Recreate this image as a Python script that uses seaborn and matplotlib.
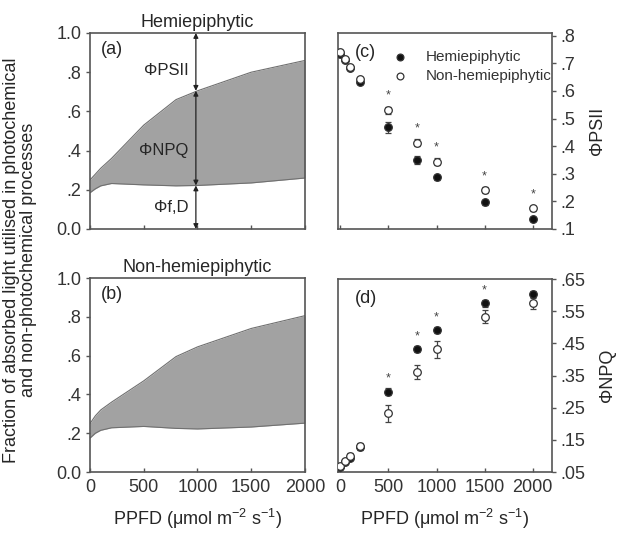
import numpy as np
import matplotlib.pyplot as plt
import pandas as pd
import seaborn as sns

# PPFD steps of the light curve
ppfd = [0, 50, 100, 200, 500, 800, 1000, 1500, 2000]

# energy partitioning bands (a) and (b)
hemi_upper = [0.25, 0.28, 0.31, 0.36, 0.53, 0.66, 0.705, 0.80, 0.86]
hemi_lower = [0.185, 0.205, 0.22, 0.232, 0.225, 0.22, 0.222, 0.235, 0.26]
non_upper = [0.25, 0.29, 0.32, 0.36, 0.47, 0.595, 0.645, 0.74, 0.806]
non_lower = [0.175, 0.20, 0.215, 0.228, 0.235, 0.225, 0.222, 0.232, 0.252]

# panel (c): PhiPSII
hemi_psii = [0.735, 0.713, 0.683, 0.634, 0.469, 0.349, 0.287, 0.196, 0.136]
hemi_psii_se = [0.005, 0.005, 0.005, 0.008, 0.02, 0.015, 0.01, 0.008, 0.008]
non_psii = [0.740, 0.716, 0.687, 0.642, 0.530, 0.413, 0.344, 0.241, 0.175]
non_psii_se = [0.005, 0.005, 0.008, 0.008, 0.012, 0.012, 0.012, 0.01, 0.01]

# panel (d): PhiNPQ
hemi_npq = [0.065, 0.080, 0.093, 0.128, 0.300, 0.432, 0.491, 0.574, 0.603]
hemi_npq_se = [0.005, 0.005, 0.006, 0.01, 0.01, 0.01, 0.01, 0.012, 0.01]
non_npq = [0.068, 0.083, 0.100, 0.131, 0.232, 0.362, 0.431, 0.533, 0.574]
non_npq_se = [0.005, 0.005, 0.008, 0.01, 0.025, 0.022, 0.025, 0.02, 0.017]

# significant differences (*)
sig_psii = [500, 800, 1000, 1500, 2000]
sig_npq = [500, 800, 1000, 1500]

groups = ['Hemiepiphytic', 'Non-hemiepiphytic']
faces = {'Hemiepiphytic': '#111111', 'Non-hemiepiphytic': 'white'}

sns.set_theme(style='ticks')
plt.rcParams['font.family'] = ['Liberation Sans', 'DejaVu Sans']
plt.rcParams['axes.edgecolor'] = '#555555'
plt.rcParams['xtick.color'] = '#555555'
plt.rcParams['ytick.color'] = '#555555'
plt.rcParams['xtick.labelcolor'] = '#333333'
plt.rcParams['ytick.labelcolor'] = '#333333'
plt.rcParams['mathtext.fontset'] = 'custom'
plt.rcParams['mathtext.rm'] = 'Liberation Sans'
plt.rcParams['font.size'] = 13

FS = 13
txt_col = '#262626'
ppfd_label = 'PPFD (\u03bcmol m$^{\\mathrm{-2}}$ s$^{\\mathrm{-1}}$)'

fig = plt.figure(figsize=(6.19, 5.33), dpi=100)
ax_a = fig.add_axes([0.1454, 0.5704, 0.3473, 0.3677])
ax_b = fig.add_axes([0.1454, 0.1144, 0.3473, 0.3640])
ax_c = fig.add_axes([0.5460, 0.5704, 0.3457, 0.3677])
ax_d = fig.add_axes([0.5460, 0.1144, 0.3457, 0.3621])

fill_col = '#a2a2a2'
edge_col = '#707070'

# ---- left panels: stacked fractions
for ax, up, lo, title, tag in [(ax_a, hemi_upper, hemi_lower, groups[0], '(a)'),
                               (ax_b, non_upper, non_lower, groups[1], '(b)')]:
    band = pd.DataFrame({'PPFD': ppfd, 'upper': up, 'lower': lo})
    ax.fill_between(band['PPFD'], band['lower'], band['upper'],
                    color=fill_col, linewidth=0)
    sns.lineplot(data=band, x='PPFD', y='upper', ax=ax, color=edge_col, lw=0.8)
    sns.lineplot(data=band, x='PPFD', y='lower', ax=ax, color=edge_col, lw=0.8)
    ax.set_xlim(0, 2000)
    ax.set_ylim(0, 1.0)
    ax.set_yticks([0, 0.2, 0.4, 0.6, 0.8, 1.0])
    ax.set_yticklabels(['0.0', '.2', '.4', '.6', '.8', '1.0'])
    ax.set_xticks([0, 500, 1000, 1500, 2000])
    ax.tick_params(axis='x', direction='in', length=3, width=1)
    ax.tick_params(axis='y', direction='out', length=3, width=1, labelsize=FS, pad=3)
    ax.set_xlabel('')
    ax.set_ylabel('')
    ax.set_title(title, fontsize=FS, pad=4, color=txt_col)
    ax.text(0.05, 0.915, tag, transform=ax.transAxes, fontsize=FS,
            va='center', ha='left', color=txt_col)

ax_a.tick_params(axis='x', labelbottom=False)
ax_b.tick_params(axis='x', labelsize=FS, pad=5)
ax_b.set_xlabel(ppfd_label, fontsize=FS, labelpad=8, color=txt_col)

# partition arrows in (a) at 1000 umol
i_arrow = ppfd.index(1000)
x_arrow = 985
arrow_kw = dict(arrowstyle='<|-|>', color='#222222', lw=0.9,
                mutation_scale=7, shrinkA=0, shrinkB=0)
for y0, y1 in [(1.0, hemi_upper[i_arrow]),
               (hemi_upper[i_arrow], hemi_lower[i_arrow]),
               (hemi_lower[i_arrow], 0.0)]:
    ax_a.annotate('', xy=(x_arrow, y0), xytext=(x_arrow, y1), arrowprops=arrow_kw)
ax_a.text(915, 0.81, '\u03a6PSII', ha='right', va='center', fontsize=12, color=txt_col)
ax_a.text(915, 0.40, '\u03a6NPQ', ha='right', va='center', fontsize=12, color=txt_col)
ax_a.text(915, 0.11, '\u03a6f,D', ha='right', va='center', fontsize=12, color=txt_col)

fig.text(0.032, 0.512,
         'Fraction of absorbed light utilised in photochemical\nand non-photochemical processes',
         rotation=90, ha='center', va='center', fontsize=FS, color=txt_col,
         linespacing=1.0)

# ---- right panels: yields with SE
def yield_panel(ax, hemi, hemi_se, non, non_se, sig, star_off, ylim, yticks, ylabels, ylab, tag):
    df = pd.DataFrame({'PPFD': ppfd * 2,
                       'val': hemi + non,
                       'se': hemi_se + non_se,
                       'Group': [groups[0]] * len(ppfd) + [groups[1]] * len(ppfd)})
    for g in groups:
        sub = df[df['Group'] == g]
        ax.errorbar(sub['PPFD'], sub['val'], yerr=sub['se'], fmt='none',
                    ecolor='#444444', elinewidth=0.9, capsize=2.5, capthick=0.9, zorder=2)
        sns.scatterplot(data=sub, x='PPFD', y='val', ax=ax, color=faces[g],
                        edgecolor='#333333', linewidth=0.9, s=30, zorder=3, legend=False)
    for x in sig:
        i = ppfd.index(x)
        top = max(hemi[i] + hemi_se[i], non[i] + non_se[i])
        ax.text(x, top + star_off, '*', ha='center', va='center',
                fontsize=9, color='#444444')
    ax.set_xlim(-25, 2200)
    ax.set_ylim(*ylim)
    ax.set_yticks(yticks)
    ax.set_yticklabels(ylabels)
    ax.set_xticks([0, 500, 1000, 1500, 2000])
    ax.yaxis.tick_right()
    ax.yaxis.set_label_position('right')
    ax.tick_params(axis='x', direction='in', length=3, width=1)
    ax.tick_params(axis='y', direction='out', length=3, width=1, labelsize=FS, pad=3)
    ax.set_xlabel('')
    ax.set_ylabel(ylab, fontsize=FS, rotation=90, labelpad=10, color=txt_col)
    ax.text(0.08, 0.9, tag, transform=ax.transAxes, fontsize=FS,
            va='center', ha='left', color=txt_col)

yield_panel(ax_c, hemi_psii, hemi_psii_se, non_psii, non_psii_se, sig_psii, 0.04,
            (0.1, 0.81), [0.1, 0.2, 0.3, 0.4, 0.5, 0.6, 0.7, 0.8],
            ['.1', '.2', '.3', '.4', '.5', '.6', '.7', '.8'], '\u03a6PSII', '(c)')
yield_panel(ax_d, hemi_npq, hemi_npq_se, non_npq, non_npq_se, sig_npq, 0.03,
            (0.05, 0.65), [0.05, 0.15, 0.25, 0.35, 0.45, 0.55, 0.65],
            ['.05', '.15', '.25', '.35', '.45', '.55', '.65'], '\u03a6NPQ', '(d)')

# key for panel (c), drawn in axes fractions
for k, g in enumerate(groups):
    yk = 0.879 - 0.10 * k
    ax_c.scatter([0.29], [yk], transform=ax_c.transAxes, s=24, color=faces[g],
                 edgecolor='#333333', linewidth=0.9, clip_on=False, zorder=4)
    ax_c.text(0.41, yk, g, transform=ax_c.transAxes, fontsize=11,
              ha='left', va='center', color='#333333')

ax_c.tick_params(axis='x', labelbottom=False)
ax_d.tick_params(axis='x', labelsize=FS, pad=5)
ax_d.set_xlabel(ppfd_label, fontsize=FS, labelpad=8, color=txt_col)

for ax in (ax_a, ax_b, ax_c, ax_d):
    for s in ax.spines.values():
        s.set_visible(True)
        s.set_linewidth(1.2)
        s.set_color('#555555')

fig.savefig('out.png', dpi=100)
